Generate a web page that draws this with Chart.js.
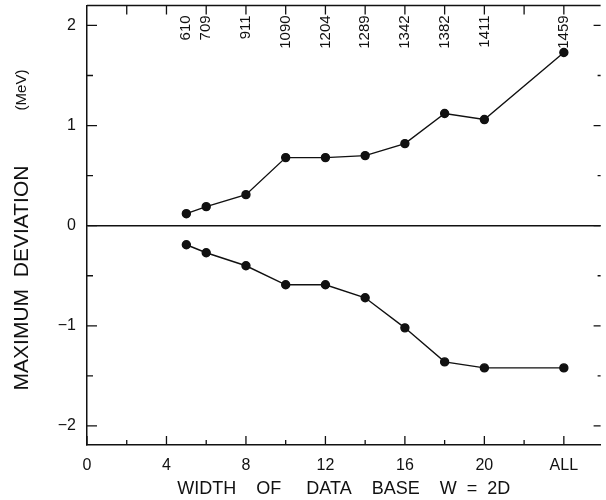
<!DOCTYPE html>
<html>
<head>
<meta charset="utf-8">
<script src="https://cdn.jsdelivr.net/npm/chart.js@4"></script>
<style>
  body { margin: 0; background: #fff; }
  canvas { display: block; }
</style>
</head>
<body>
<canvas id="grafico" width="606" height="500"></canvas>
<script>
const widths = [5, 6, 8, 10, 12, 14, 16, 18, 20, 24]
const upperDeviation = [0.12, 0.19, 0.31, 0.68, 0.68, 0.70, 0.82, 1.12, 1.06, 1.73]
const lowerDeviation = [-0.19, -0.27, -0.40, -0.59, -0.59, -0.72, -1.02, -1.36, -1.42, -1.42]
const baseSizes = ['610', '709', '911', '1090', '1204', '1289', '1342', '1382', '1411', '1459']
const xTickValues = [0, 4, 8, 12, 16, 20, 24]
const xTickLabels = ['0', '4', '8', '12', '16', '20', 'ALL']
const yTickValues = [-2, -1, 0, 1, 2]
const yTickLabels = ['\u22122', '\u22121', '0', '1', '2']

const font = "'Liberation Sans', Arial, sans-serif"
const ink = '#111'

function toPoints(ys) {
    return widths.map((w, i) => ({ x: w, y: ys[i] }))
}

function near(a, b) {
    return Math.abs(a - b) < 1e-6
}

function isStep(v, step) {
    return near(v / step, Math.round(v / step))
}

function labelFor(values, labels) {
    return v => {
        const i = values.findIndex(t => near(t, v))
        return i >= 0 ? labels[i] : ''
    }
}

// inward tick marks, top frame line, top labels and axis titles
const framePlugin = {
    id: 'frame',
    afterDraw(chart) {
        const ctx = chart.ctx
        const area = chart.chartArea
        const x = chart.scales.x
        const y = chart.scales.y

        ctx.save()
        ctx.strokeStyle = ink
        ctx.lineWidth = 1.5
        ctx.beginPath()
        ctx.moveTo(area.left, area.top)
        ctx.lineTo(area.right, area.top)
        ctx.stroke()

        ctx.lineWidth = 1.3
        x.ticks.forEach(t => {
            if (!isStep(t.value, 2)) return
            const px = x.getPixelForValue(t.value)
            const major = isStep(t.value, 4)
            ctx.beginPath()
            ctx.moveTo(px, area.bottom)
            ctx.lineTo(px, area.bottom - (major ? 9 : 5))
            if (t.value > 0) {
                ctx.moveTo(px, area.top)
                ctx.lineTo(px, area.top + 9)
            }
            ctx.stroke()
        })

        y.ticks.forEach(t => {
            if (!isStep(t.value, 0.5)) return
            const py = y.getPixelForValue(t.value)
            const major = isStep(t.value, 1)
            ctx.beginPath()
            ctx.moveTo(area.left, py)
            ctx.lineTo(area.left + (major ? 10 : 6), py)
            ctx.moveTo(area.right, py)
            ctx.lineTo(area.right - (major ? 7 : 3), py)
            ctx.stroke()
        })

        ctx.fillStyle = ink
        ctx.font = '15px ' + font
        ctx.textAlign = 'right'
        ctx.textBaseline = 'middle'
        widths.forEach((w, i) => {
            ctx.save()
            ctx.translate(x.getPixelForValue(w), area.top + 10)
            ctx.rotate(-Math.PI / 2)
            ctx.fillText(baseSizes[i], 0, 0)
            ctx.restore()
        })

        ctx.textAlign = 'center'
        ctx.font = '18px ' + font
        ctx.fillText('WIDTH    OF     DATA    BASE    W  =  2D', (area.left + area.right) / 2, 489)

        ctx.save()
        ctx.translate(22, 278)
        ctx.rotate(-Math.PI / 2)
        ctx.font = '21px ' + font
        ctx.fillText('MAXIMUM  DEVIATION', 0, 0)
        ctx.restore()

        ctx.save()
        ctx.translate(22, 90)
        ctx.rotate(-Math.PI / 2)
        ctx.font = '15px ' + font
        ctx.fillText('(MeV)', 0, 0)
        ctx.restore()

        ctx.restore()
    }
}

const lineStyle = {
    borderColor: ink,
    backgroundColor: ink,
    borderWidth: 1.4,
    pointRadius: 4,
    pointHoverRadius: 4,
    tension: 0
}

function noEdgePadding(s) {
    s.paddingTop = 0
    s.paddingBottom = 0
    s.paddingLeft = 0
    s.paddingRight = 0
}

new Chart(document.getElementById('grafico'), {
    type: 'line',
    data: {
        datasets: [
            { label: 'upper', data: toPoints(upperDeviation), ...lineStyle },
            { label: 'lower', data: toPoints(lowerDeviation), ...lineStyle }
        ]
    },
    options: {
        responsive: false,
        animation: false,
        layout: { padding: { top: 5, right: 0, left: 0, bottom: 0 } },
        plugins: { legend: { display: false }, tooltip: { enabled: false } },
        scales: {
            x: {
                type: 'linear',
                min: 0,
                max: 25.85,
                afterFit: s => { s.height = 55; noEdgePadding(s) },
                grid: { display: false },
                border: { display: true, color: ink, width: 1.5 },
                ticks: {
                    stepSize: 2,
                    includeBounds: false,
                    autoSkip: false,
                    maxRotation: 0,
                    padding: 3,
                    color: ink,
                    font: { family: font, size: 16 },
                    callback: labelFor(xTickValues, xTickLabels)
                }
            },
            y: {
                min: -2.19,
                max: 2.2,
                afterFit: s => { s.width = 87; noEdgePadding(s) },
                grid: {
                    drawTicks: false,
                    color: c => c.tick && near(c.tick.value, 0) ? ink : 'transparent',
                    lineWidth: 1.5
                },
                border: { display: true, color: ink, width: 1.5 },
                ticks: {
                    stepSize: 0.5,
                    includeBounds: false,
                    autoSkip: false,
                    padding: 11,
                    color: ink,
                    font: { family: font, size: 16 },
                    callback: labelFor(yTickValues, yTickLabels)
                }
            }
        }
    },
    plugins: [framePlugin]
})
</script>
</body>
</html>
